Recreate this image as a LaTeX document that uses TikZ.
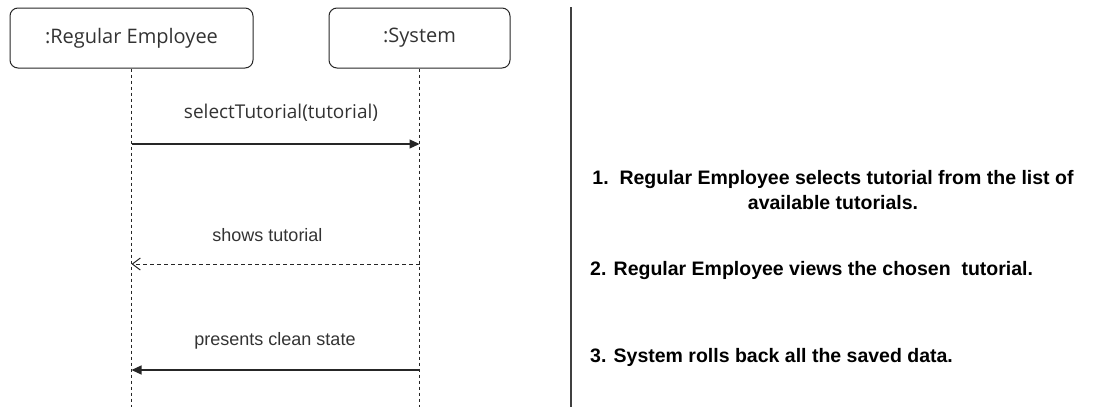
\documentclass[tikz,border=0pt]{standalone}
\usepackage{fontspec}
\setmainfont{Liberation Sans}
\newfontfamily\boxfont{Open Sans}
\usetikzlibrary{arrows.meta}
\begin{document}
\begin{tikzpicture}[x=1pt,y=-1pt,
  lifebox/.style={draw=black!85, line width=1pt, rounded corners=8pt, minimum width=243pt, minimum height=60pt, font=\boxfont\fontsize{20}{24}\selectfont, text=black!80},
  lifeline/.style={draw=black!85, line width=1pt, dash pattern=on 3pt off 3pt},
  msg/.style={draw=black!85, line width=1.2pt, -{Triangle[length=10pt,width=9pt]}},
  reply/.style={draw=black!85, line width=1pt, dash pattern=on 4pt off 3pt, -{Straight Barb[length=8pt,width=12pt]}},
  msglabel/.style={font=\fontsize{18}{22}\selectfont, text=black!80},
  note/.style={font=\bfseries\fontsize{19.5}{25}\selectfont, text=black, align=center, inner sep=0pt}
]
\useasboundingbox (0,0) rectangle (1100,407);
% participants
\node[lifebox] (re) at (131.5,38) {:Regular Employee};
\node[lifebox, minimum width=181pt] (sys) at (419.5,38) {:System};
\coordinate (reEnd) at (131.5,407);
\coordinate (sysEnd) at (419.5,407);
\draw[lifeline] (re.south) -- (reEnd);
\draw[lifeline] (sys.south) -- (sysEnd);
% messages
\coordinate (m1a) at (131.5,144);
\coordinate (m1b) at (419.5,144);
\draw[msg] (m1a) -- (m1b);
\node[msglabel, font=\boxfont\fontsize{19}{22}\selectfont] (l1) at (281,113) {selectTutorial(tutorial)};
\coordinate (m2a) at (419.5,264);
\coordinate (m2b) at (131.5,264);
\draw[reply] (m2a) -- (m2b);
\node[msglabel] (l2) at (267.5,235) {shows tutorial};
\coordinate (m3a) at (419.5,370);
\coordinate (m3b) at (131.5,370);
\draw[msg] (m3a) -- (m3b);
\node[msglabel] (l3) at (275,341) {presents clean state};
% divider
\coordinate (dTop) at (571,7);
\coordinate (dBot) at (571,407);
\draw[draw=black!75, line width=1.5pt] (dTop) -- (dBot);
% step descriptions
\node[note] (n1) at (833,190) {1.\ \ Regular Employee selects tutorial from the list of\\available tutorials.};
\node[note, anchor=west] (n2) at (590,270) {2. Regular Employee views the chosen\ \ tutorial.};
\node[note, anchor=west] (n3) at (590,357) {3. System rolls back all the saved data.};
\end{tikzpicture}
\end{document}
